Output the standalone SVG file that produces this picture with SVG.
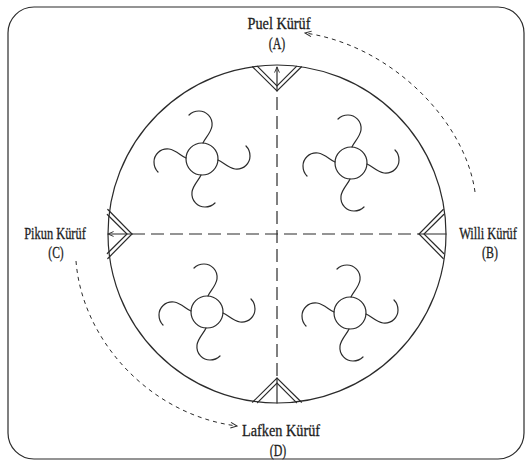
<svg xmlns="http://www.w3.org/2000/svg" width="531" height="466" viewBox="0 0 531 466">
  <style>
    .ln { fill: none; stroke: #2b2b2b; stroke-width: 1.2; stroke-linecap: round; }
    .axis { fill: none; stroke: #2b2b2b; stroke-width: 1.2; stroke-dasharray: 13 6; }
    .flow { fill: none; stroke: #2b2b2b; stroke-width: 1; stroke-dasharray: 4 4; }
    .lbl { font-family: "Liberation Serif", "Times New Roman", serif; font-size: 17px; fill: #1e1e1e; stroke: #1e1e1e; stroke-width: 0.3; text-anchor: middle; }
  </style>
  <defs>
    <marker id="open" viewBox="0 0 10 10" refX="9" refY="5" markerWidth="8" markerHeight="8" orient="auto" markerUnits="userSpaceOnUse">
      <path d="M1,1.5 L9,5 L1,8.5" fill="none" stroke="#2b2b2b" stroke-width="1.2"/>
    </marker>
    <marker id="tip" viewBox="0 0 10 10" refX="9" refY="5" markerWidth="7" markerHeight="7" orient="auto" markerUnits="userSpaceOnUse">
      <path d="M1,1.5 L9,5 L1,8.5" fill="none" stroke="#2b2b2b" stroke-width="1.3"/>
    </marker>
    <!-- one fan arm, pointing up, curling to the left -->
    <path id="arm" d="M1,-16 C3,-21 9,-26 10,-33 C11,-42 4,-48 -3,-48 C-7,-48 -11,-46 -13,-44" class="ln"/>
    <!-- pinwheel: hub with four arms -->
    <g id="fan">
      <circle r="16" class="ln"/>
      <use href="#arm"/>
      <use href="#arm" transform="rotate(90)"/>
      <use href="#arm" transform="rotate(180)"/>
      <use href="#arm" transform="rotate(270)"/>
    </g>
    <!-- double V notch, apex at origin, opening upward -->
    <g id="notch">
      <path d="M-24.5,-24.2 L0,0 L24.5,-24.2" class="ln"/>
      <path d="M-19.5,-24.7 L0,-5 L19.5,-24.7" class="ln"/>
    </g>
  </defs>

  <!-- outer frame -->
  <rect x="8" y="7" width="516" height="452" rx="26" ry="26" class="ln"/>

  <!-- main circle -->
  <g id="circle">
    <circle cx="277" cy="234" r="169" class="ln"/>
  </g>

  <!-- notches on the rim -->
  <g id="notch-A"><use href="#notch" transform="translate(277,91)"/></g>
  <g id="notch-B"><use href="#notch" transform="translate(419,234) rotate(90)"/></g>
  <g id="notch-C"><use href="#notch" transform="translate(132,234) rotate(-90)"/></g>
  <g id="notch-D"><use href="#notch" transform="translate(277,378) rotate(180)"/></g>

  <!-- pinwheels -->
  <g id="fan-1"><use href="#fan" transform="translate(202,159)"/></g>
  <g id="fan-2"><use href="#fan" transform="translate(351,163)"/></g>
  <g id="fan-3"><use href="#fan" transform="translate(207,312)"/></g>
  <g id="fan-4"><use href="#fan" transform="translate(350,313)"/></g>

  <g id="connectors">
    <!-- axes -->
    <line x1="277" y1="97" x2="277" y2="378" class="axis"/>
    <line x1="132" y1="234" x2="419" y2="234" class="axis"/>
    <!-- short stems inside notches -->
    <line x1="277" y1="91" x2="277" y2="67" class="ln" marker-end="url(#tip)"/>
    <line x1="132" y1="234" x2="108" y2="234" class="ln" marker-end="url(#tip)"/>
    <line x1="419" y1="234" x2="446" y2="234" class="ln"/>
    <line x1="277" y1="378" x2="277" y2="403" class="ln"/>
    <!-- rotation arrows -->
    <path d="M475,192 C465,120 390,45 305,33" class="flow" marker-end="url(#open)"/>
    <path d="M76,261 C82,340 150,415 237,426" class="flow" marker-end="url(#open)"/>
  </g>

  <!-- labels (condensed by horizontal scaling) -->
  <g id="label-A">
    <text class="lbl" transform="translate(279,29) scale(0.84,1)">Puel Kürüf</text>
    <text class="lbl" transform="translate(277,49) scale(0.7,1)">(A)</text>
  </g>
  <g id="label-B">
    <text class="lbl" transform="translate(488,239) scale(0.73,1)">Willi Kürüf</text>
    <text class="lbl" transform="translate(490,258) scale(0.7,1)">(B)</text>
  </g>
  <g id="label-C">
    <text class="lbl" transform="translate(55,239) scale(0.73,1)">Pikun Kürüf</text>
    <text class="lbl" transform="translate(56,258) scale(0.68,1)">(C)</text>
  </g>
  <g id="label-D">
    <text class="lbl" transform="translate(281,436) scale(0.84,1)">Lafken Kürüf</text>
    <text class="lbl" transform="translate(278,456) scale(0.7,1)">(D)</text>
  </g>
</svg>
